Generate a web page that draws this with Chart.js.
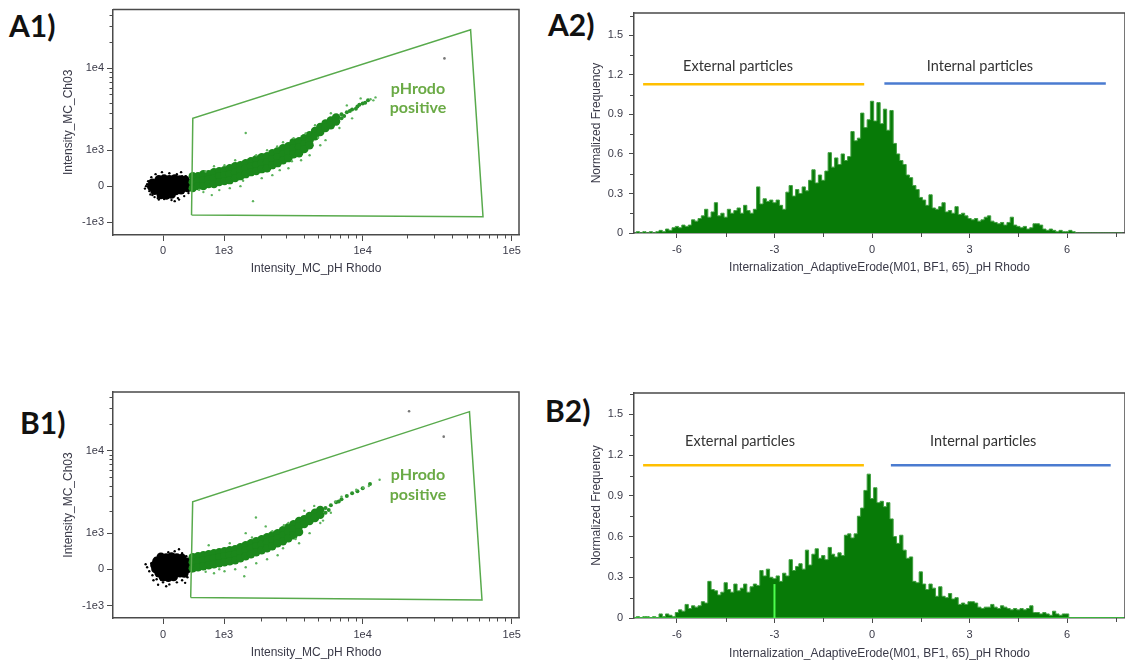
<!DOCTYPE html>
<html>
<head>
<meta charset="utf-8">
<title>pHrodo internalization</title>
<script src="https://cdn.jsdelivr.net/npm/chart.js@4/dist/chart.umd.min.js"></script>
<style>
  html, body { margin: 0; padding: 0; background: #fff; }
  body { position: relative; width: 1125px; height: 664px; overflow: hidden; }
  canvas { position: absolute; }
  .tag { position: absolute; font: bold 30px Lato, sans-serif; line-height: 30px; color: #111; }
</style>
</head>
<body>
<div class="tag" style="left:9px;top:10px">A1)</div>
<div class="tag" style="left:548px;top:9px">A2)</div>
<div class="tag" style="left:20px;top:407px">B1)</div>
<div class="tag" style="left:545px;top:395px">B2)</div>
<canvas id="a1" width="560" height="300" style="left:0;top:0"></canvas>
<canvas id="a2" width="565" height="300" style="left:560px;top:0"></canvas>
<canvas id="b1" width="560" height="284" style="left:0;top:380px"></canvas>
<canvas id="b2" width="565" height="284" style="left:560px;top:380px"></canvas>
<script>
// ---------- axis ticks ----------
var intensityXTicks = [0, 1e3, 1e4, 1e5];
var intensityXLabels = ['0', '1e3', '1e4', '1e5'];
var intensityYTicks = [-1e3, 0, 1e3, 1e4];
var intensityYLabels = ['-1e3', '0', '1e3', '1e4'];
var intensityXMinor = [2e3, 3e3, 4e3, 5e3, 6e3, 7e3, 8e3, 9e3, 2e4, 3e4, 4e4, 5e4, 6e4, 7e4, 8e4, 9e4];
var intensityYMinor = [2e3, 3e3, 4e3, 5e3, 6e3, 7e3, 8e3, 9e3, 2e4, 3e4, 4e4];

var erodeTicks = [-6, -3, 0, 3, 6];
var erodeLabels = ['-6', '-3', '0', '3', '6'];
var erodeMinor = [-4.5, -1.5, 1.5, 4.5, 7.5];
var freqTicks = [0, 0.3, 0.6, 0.9, 1.2, 1.5];
var freqLabels = ['0', '0.3', '0.6', '0.9', '1.2', '1.5'];
var freqMinor = [0.15, 0.45, 0.75, 1.05, 1.35, 1.65];

// ---------- A1 scatter (Intensity_MC_pH Rhodo, Intensity_MC_Ch03) ----------
var a1Gate = [[418, -763], [438, 2620], [53000, 27200], [64200, -816]];
var a1NegCore = [
  [-60, 160], [15, 178], [90, 165], [167, 182], [244, 158], [322, 150],
  [-151, 80], [-75, 64], [0, 90], [75, 70], [151, 96], [229, 60], [306, 84], [371, 66],
  [-167, -10], [-91, -30], [-15, -18], [60, -36], [136, -6], [213, -28], [290, -14], [355, -40],
  [-121, -110], [-45, -128], [30, -104], [106, -132], [182, -112], [260, -96],
  [-30, -210], [45, -226], [121, -200]
];
var a1NegSparse = [
  [-244, 0], [-213, 120], [-197, -120], [-167, 218], [-151, -218], [-106, 292], [-75, -292],
  [-15, 343], [15, -318], [90, 317], [121, -343], [198, 292], [213, -292], [275, 242],
  [306, -242], [355, 193], [371, -168], [404, 96], [404, -72], [-228, 48], [-121, -267],
  [167, -370], [260, 343], [-260, -60], [-60, -330], [230, -330], [330, 240], [-180, -200]
];
var a1PosCore = [
  [437, 242], [437, 96], [437, -48], [522, 242], [522, 120], [522, 0],
  [611, 292], [611, 144], [611, 0], [704, 292], [704, 168], [704, 48],
  [801, 343], [801, 193], [801, 48], [903, 369], [903, 242], [903, 96],
  [1010, 395], [1010, 267], [1010, 120], [1125, 447], [1125, 292], [1125, 144],
  [1250, 501], [1250, 343], [1250, 193], [1380, 529], [1380, 395], [1380, 242],
  [1520, 585], [1520, 447], [1520, 292], [1670, 643], [1670, 501], [1670, 343],
  [1830, 702], [1830, 529], [1830, 369], [2010, 764], [2010, 585], [2010, 421],
  [2200, 795], [2200, 614], [2200, 447], [2400, 892], [2400, 702], [2400, 529],
  [2620, 961], [2620, 764], [2620, 585], [2860, 1070], [2860, 859], [2860, 672],
  [3120, 1143], [3120, 926], [3120, 733], [3390, 1300], [3390, 1070], [3390, 859],
  [3700, 1345], [3700, 1105], [3700, 892], [4020, 1480], [4020, 1220], [4020, 1033],
  [4370, 1620], [4370, 1390], [4370, 1180], [4760, 1835], [4760, 1570],
  [5170, 2055], [5170, 1780], [5610, 2280], [5610, 2000], [6100, 2470], [6100, 2165],
  [6620, 2695], [6620, 2400]
];
var a1PosTail = [
  [7200, 2930], [7200, 2620], [7820, 3090], [8490, 3350], [9220, 3630], [10000, 3935],
  [10870, 4270], [7500, 2800], [8200, 3200], [9000, 3400], [9500, 3800], [10400, 4000]
];
var a1PosSparse = [
  [611, -144], [760, -218], [903, -96], [1125, -48], [1380, 0], [1520, 1725], [1730, -370],
  [2010, 193], [2400, 267], [2710, 395], [3120, 447], [3820, 672], [4370, 827], [5170, 1180],
  [5610, 1390], [6970, 2000], [8490, 2620], [11800, 4270], [12200, 4620], [1830, 827],
  [1250, 672], [2200, 996], [2860, 1300], [1010, 529], [3390, 1480], [4760, 2165],
  [6100, 3010], [7820, 3730], [9690, 4500], [801, 501], [650, 360], [540, -90],
  [1450, 130], [2600, 1130], [3300, 640], [4100, 1700], [5000, 1500], [11300, 4400]
];
var a1Stray = [[35400, 12900]];

// ---------- B1 scatter ----------
var b1Gate = [[405, -737], [436, 2570], [52100, 27600], [63200, -814]];
var b1NegCore = [
  [-30, 300], [45, 280], [121, 310], [198, 285], [275, 270],
  [-91, 200], [-15, 185], [60, 210], [136, 180], [213, 200], [290, 190], [355, 175],
  [-121, 100], [-45, 90], [30, 110], [106, 85], [182, 105], [260, 92], [338, 100], [387, 80],
  [-106, 10], [-30, -8], [45, 14], [121, -12], [198, 6], [275, -10], [355, 12],
  [-60, -90], [15, -104], [90, -86], [167, -110], [244, -92], [306, -100],
  [0, -186], [75, -200], [151, -180]
];
var b1NegSparse = [
  [-228, 48], [-197, -48], [-167, 144], [-151, -144], [-106, 267], [-91, -242], [-30, 369],
  [0, -318], [75, 421], [90, -370], [167, 447], [198, -318], [275, 395], [275, -267],
  [338, 317], [355, -193], [404, 218], [420, -48], [437, 96], [-136, -267], [229, 501], [45, -420],
  [-250, 120], [-70, -380], [320, -330]
];
var b1PosCore = [
  [437, 292], [437, 168], [437, 24], [522, 317], [522, 193], [522, 48],
  [611, 343], [611, 218], [611, 72], [704, 369], [704, 242], [704, 96],
  [801, 395], [801, 267], [801, 120], [903, 421], [903, 292], [903, 144],
  [1010, 447], [1010, 317], [1010, 168], [1125, 474], [1125, 343], [1125, 193],
  [1250, 501], [1250, 369], [1250, 218], [1380, 557], [1380, 421], [1380, 267],
  [1520, 614], [1520, 474], [1520, 317], [1670, 672], [1670, 529], [1670, 369],
  [1830, 733], [1830, 585], [1830, 421], [2010, 795], [2010, 643], [2010, 474],
  [2200, 859], [2200, 702], [2200, 529], [2400, 926], [2400, 764], [2400, 585],
  [2620, 996], [2620, 827], [2620, 672], [2860, 1105], [2860, 926], [2860, 733],
  [3120, 1220], [3120, 1033], [3120, 827], [3390, 1345], [3390, 1143], [3390, 926],
  [3700, 1480], [3700, 1260], [3700, 1033], [4020, 1570], [4020, 1345],
  [4370, 1725], [4370, 1480], [4760, 1890], [4760, 1620], [5170, 2055], [5170, 1780]
];
var b1PosTail = [
  [5610, 2165], [5610, 1890], [6100, 2340], [6620, 2545], [7200, 2770], [7820, 3010],
  [8490, 3260], [9220, 3440], [10000, 3730], [11200, 4155], [5900, 2050], [6900, 2600]
];
var b1PosSparse = [
  [1480, -168], [1820, 1650], [2150, 1250], [6520, 2590], [7200, 2970], [9060, 3570],
  [10100, 3770], [11000, 3940], [13000, 4660], [801, -96], [1010, -48], [1250, 0],
  [1520, 48], [1830, 144], [2200, 242], [2620, 343], [2860, 529], [3700, 672], [4370, 996],
  [5170, 1390], [4020, 2000], [6100, 1890], [3120, 1390], [2400, 1070], [1125, 672],
  [1520, 996], [704, 614], [903, 0], [650, -60], [1700, 850], [2900, 1300], [4700, 2300],
  [5400, 1500], [3500, 800]
];
var b1Stray = [[20500, 27900], [35000, 14400]];

// ---------- A2 / B2 histograms (bins of 0.1 starting at -7.3) ----------
var binStart = -7.3;
var binWidth = 0.1;
var a2Freq = [
  0, 0.01, 0, 0.01, 0, 0.01, 0, 0.01, 0.02, 0.01,
  0.03, 0.02, 0.04, 0.05, 0.04, 0.06, 0.05, 0.06, 0.10, 0.09,
  0.11, 0.13, 0.18, 0.12, 0.16, 0.23, 0.13, 0.15, 0.12, 0.18,
  0.15, 0.17, 0.19, 0.15, 0.21, 0.17, 0.15, 0.18, 0.35, 0.22,
  0.26, 0.24, 0.25, 0.23, 0.25, 0.21, 0.18, 0.31, 0.36, 0.28,
  0.33, 0.30, 0.35, 0.32, 0.40, 0.48, 0.38, 0.44, 0.40, 0.47,
  0.61, 0.50, 0.57, 0.52, 0.60, 0.55, 0.58, 0.77, 0.70, 0.72,
  0.91, 0.80, 0.86, 1.00, 0.85, 0.99, 0.83, 0.94, 0.78, 0.93,
  0.68, 0.60, 0.55, 0.52, 0.44, 0.42, 0.36, 0.33, 0.27, 0.25,
  0.21, 0.29, 0.19, 0.18, 0.20, 0.23, 0.16, 0.17, 0.15, 0.20,
  0.14, 0.15, 0.13, 0.11, 0.10, 0.11, 0.09, 0.10, 0.12, 0.13,
  0.09, 0.08, 0.07, 0.08, 0.06, 0.08, 0.12, 0.06, 0.05, 0.04,
  0.05, 0.03, 0.04, 0.07, 0.07, 0.06, 0.03, 0.02, 0.03, 0.02,
  0.01, 0.02, 0.01, 0.01, 0.02, 0.01, 0, 0, 0, 0,
  0, 0, 0, 0, 0, 0, 0, 0, 0, 0,
  0
];
var b2Freq = [
  0, 0.01, 0, 0.01, 0.01, 0, 0.01, 0, 0.03, 0.01,
  0.03, 0.02, 0.01, 0.04, 0.06, 0.05, 0.10, 0.07, 0.09, 0.08,
  0.09, 0.12, 0.11, 0.27, 0.21, 0.20, 0.17, 0.19, 0.26, 0.21,
  0.19, 0.25, 0.20, 0.22, 0.25, 0.19, 0.23, 0.25, 0.24, 0.35,
  0.31, 0.36, 0.30, 0.29, 0.31, 0.27, 0.33, 0.31, 0.43, 0.35,
  0.38, 0.40, 0.36, 0.50, 0.39, 0.47, 0.51, 0.44, 0.46, 0.43,
  0.52, 0.47, 0.45, 0.48, 0.46, 0.61, 0.62, 0.59, 0.62, 0.75,
  0.81, 0.94, 1.06, 0.88, 0.96, 0.85, 0.86, 0.82, 0.85, 0.73,
  0.60, 0.55, 0.61, 0.50, 0.44, 0.45, 0.27, 0.26, 0.34, 0.25,
  0.21, 0.25, 0.22, 0.16, 0.23, 0.16, 0.15, 0.18, 0.14, 0.15,
  0.10, 0.11, 0.10, 0.12, 0.12, 0.11, 0.08, 0.07, 0.08, 0.08,
  0.10, 0.08, 0.07, 0.09, 0.08, 0.07, 0.06, 0.07, 0.06, 0.07,
  0.06, 0.07, 0.09, 0.04, 0.04, 0.03, 0.04, 0.03, 0.02, 0.05,
  0.03, 0.02, 0.03, 0.03, 0, 0, 0, 0, 0, 0,
  0, 0, 0, 0, 0, 0, 0, 0, 0, 0,
  0
];
// [from, to, level]
var a2External = [-7.04, -0.24, 1.13];
var a2Internal = [0.38, 7.19, 1.134];
var b2External = [-7.04, -0.25, 1.125];
var b2Internal = [0.58, 7.34, 1.125];
var b2Cursor = [-3, 0.25];

// ---------- helpers ----------
var ASINH_C = 920;
function toAxis(v) { return Math.asinh(v / ASINH_C); }
function toPoint(p) { return { x: toAxis(p[0]), y: toAxis(p[1]) }; }

var AXIS_GREY = '#4a4a4a';
var TEXT_GREY = '#3a3a48';
var GATE_GREEN = '#58aa4c';
var tickFont = { family: "'Liberation Sans', Arial, sans-serif", size: 11 };
var titleFont = { family: "'Liberation Sans', Arial, sans-serif", size: 12 };

function framePlugin() {
  return {
    id: 'frame',
    afterDatasetsDraw: function(chart) {
      var ctx = chart.ctx, a = chart.chartArea;
      ctx.save();
      ctx.strokeStyle = AXIS_GREY;
      ctx.lineWidth = 1.5;
      ctx.beginPath();
      ctx.moveTo(a.left, a.top);
      ctx.lineTo(a.right, a.top);
      ctx.lineTo(a.right, a.bottom);
      ctx.stroke();
      ctx.restore();
    }
  };
}

function minorTickPlugin(xs, ys, len) {
  return {
    id: 'minorTicks',
    afterDraw: function(chart) {
      var ctx = chart.ctx, a = chart.chartArea;
      var sx = chart.scales.x, sy = chart.scales.y;
      ctx.save();
      ctx.strokeStyle = AXIS_GREY;
      ctx.lineWidth = 1;
      ctx.beginPath();
      xs.forEach(function(v) {
        var p = Math.round(sx.getPixelForValue(v)) + 0.5;
        if (p < a.left || p > a.right) return;
        ctx.moveTo(p, a.bottom);
        ctx.lineTo(p, a.bottom + len);
      });
      ys.forEach(function(v) {
        var p = Math.round(sy.getPixelForValue(v)) + 0.5;
        if (p < a.top || p > a.bottom) return;
        ctx.moveTo(a.left, p);
        ctx.lineTo(a.left - len, p);
      });
      ctx.stroke();
      ctx.restore();
    }
  };
}

function notesPlugin(items) {
  return {
    id: 'notes',
    afterDatasetsDraw: function(chart) {
      var ctx = chart.ctx;
      ctx.save();
      ctx.textAlign = 'center';
      ctx.textBaseline = 'middle';
      items.forEach(function(n) {
        ctx.font = n.font;
        ctx.fillStyle = n.color;
        ctx.fillText(n.text, chart.scales.x.getPixelForValue(n.x), chart.scales.y.getPixelForValue(n.y));
      });
      ctx.restore();
    }
  };
}

function scatterPanel(id, d, lay) {
  var gate = d.gate.concat([d.gate[0]]);
  var pos = 'bold 16px Lato, sans-serif';
  return new Chart(document.getElementById(id), {
    type: 'scatter',
    data: {
      datasets: [
        { data: gate.map(toPoint), showLine: true, borderColor: GATE_GREEN, borderWidth: 1.5, pointRadius: 0, order: 0 },
        { data: d.stray.map(toPoint), backgroundColor: '#777', pointRadius: 1.3, borderWidth: 0, order: 1 },
        { data: d.posSparse.map(toPoint), backgroundColor: '#5cb35c', pointRadius: 1.2, borderWidth: 0, order: 2 },
        { data: d.posTail.map(toPoint), backgroundColor: '#2a922a', pointRadius: 2, borderWidth: 0, order: 3 },
        { data: d.posCore.map(toPoint), backgroundColor: '#1b871b', pointRadius: 4.2, borderWidth: 0, order: 4 },
        { data: d.negSparse.map(toPoint), backgroundColor: '#000', pointRadius: 1.2, borderWidth: 0, order: 5 },
        { data: d.negCore.map(toPoint), backgroundColor: '#000', pointRadius: 4.4, borderWidth: 0, order: 6 }
      ]
    },
    options: {
      responsive: false, animation: false, events: [],
      layout: { padding: { left: 0, right: lay.padRight, top: lay.padTop, bottom: 0 } },
      plugins: { legend: { display: false }, tooltip: { enabled: false } },
      scales: {
        x: {
          type: 'linear', min: lay.xMin, max: lay.xMax,
          afterBuildTicks: function(s) { s.ticks = intensityXTicks.map(function(v) { return { value: toAxis(v) }; }); },
          afterFit: function(s) { s.height = lay.xAxisH; },
          ticks: { callback: function(v, i) { return intensityXLabels[i]; }, autoSkip: false, maxRotation: 0, padding: lay.xTickPad, font: tickFont, color: TEXT_GREY },
          grid: { drawOnChartArea: false, tickLength: 6, color: AXIS_GREY },
          border: { color: AXIS_GREY, width: 1.5 },
          title: { display: true, text: 'Intensity_MC_pH Rhodo', font: titleFont, color: TEXT_GREY, padding: { top: 0, bottom: lay.xTitlePad } }
        },
        y: {
          type: 'linear', min: lay.yMin, max: lay.yMax,
          afterBuildTicks: function(s) { s.ticks = intensityYTicks.map(function(v) { return { value: toAxis(v) }; }); },
          afterFit: function(s) { s.width = 113; },
          ticks: { callback: function(v, i) { return intensityYLabels[i]; }, autoSkip: false, padding: 3, font: tickFont, color: TEXT_GREY },
          grid: { drawOnChartArea: false, tickLength: 6, color: AXIS_GREY },
          border: { color: AXIS_GREY, width: 1.5 },
          title: { display: true, text: 'Intensity_MC_Ch03', font: titleFont, color: TEXT_GREY, padding: { top: 61, bottom: 0 } }
        }
      }
    },
    plugins: [
      framePlugin(),
      minorTickPlugin(intensityXMinor.map(toAxis), intensityYMinor.map(toAxis), 3.5),
      notesPlugin([
        { text: 'pHrodo', x: 3.935, y: lay.noteY[0], font: pos, color: '#6aaa45' },
        { text: 'positive', x: 3.935, y: lay.noteY[1], font: pos, color: '#6aaa45' }
      ])
    ]
  });
}

function histPanel(id, freq, ext, int, lay, cursor) {
  var bins = freq.map(function(v, i) { return { x: binStart + i * binWidth, y: v }; });
  var sets = [
    { data: [{ x: ext[0], y: ext[2] }, { x: ext[1], y: ext[2] }], borderColor: '#ffbf00', borderWidth: 2.5, pointRadius: 0, order: 1 },
    { data: [{ x: int[0], y: int[2] }, { x: int[1], y: int[2] }], borderColor: '#4a7bd0', borderWidth: 2.5, pointRadius: 0, order: 1 },
    { data: bins, stepped: 'middle', fill: 'origin', backgroundColor: '#077a07', borderColor: '#3f9f3f', borderWidth: 1, pointRadius: 0, order: 5 }
  ];
  if (cursor) {
    sets.push({ data: [{ x: cursor[0], y: 0 }, { x: cursor[0], y: cursor[1] }], borderColor: '#4dff4d', borderWidth: 2, pointRadius: 0, order: 0 });
    sets.push({ data: [{ x: lay.xMin, y: 0 }, { x: lay.xMax, y: 0 }], borderColor: '#39c839', borderWidth: 1.5, pointRadius: 0, order: 2 });
  }
  var label = '14.5px Lato, sans-serif';
  return new Chart(document.getElementById(id), {
    type: 'line',
    data: { datasets: sets },
    options: {
      responsive: false, animation: false, events: [],
      layout: { padding: { left: 0, right: 0, top: lay.padTop, bottom: 0 } },
      plugins: { legend: { display: false }, tooltip: { enabled: false } },
      scales: {
        x: {
          type: 'linear', min: lay.xMin, max: lay.xMax,
          afterBuildTicks: function(s) { s.ticks = erodeTicks.map(function(v) { return { value: v }; }); },
          afterFit: function(s) { s.height = lay.xAxisH; },
          ticks: { callback: function(v, i) { return erodeLabels[i]; }, autoSkip: false, maxRotation: 0, padding: lay.xTickPad, font: tickFont, color: TEXT_GREY },
          grid: { drawOnChartArea: false, tickLength: 5, color: AXIS_GREY },
          border: { color: AXIS_GREY, width: 1.5 },
          title: { display: true, text: 'Internalization_AdaptiveErode(M01, BF1, 65)_pH Rhodo', font: titleFont, color: TEXT_GREY, padding: { top: 0, bottom: lay.xTitlePad } }
        },
        y: {
          type: 'linear', min: 0, max: lay.yMax,
          afterBuildTicks: function(s) { s.ticks = freqTicks.map(function(v) { return { value: v }; }); },
          afterFit: function(s) { s.width = 74; },
          ticks: { callback: function(v, i) { return freqLabels[i]; }, autoSkip: false, padding: 6, font: tickFont, color: TEXT_GREY },
          grid: { drawOnChartArea: false, tickLength: 5, color: AXIS_GREY },
          border: { color: AXIS_GREY, width: 1.5 },
          title: { display: true, text: 'Normalized Frequency', font: titleFont, color: TEXT_GREY, padding: { top: 29, bottom: 0 } }
        }
      }
    },
    plugins: [
      framePlugin(),
      minorTickPlugin(erodeMinor, freqMinor, 4),
      notesPlugin([
        { text: 'External particles', x: lay.noteX[0], y: lay.noteY, font: label, color: '#333' },
        { text: 'Internal particles', x: lay.noteX[1], y: lay.noteY, font: label, color: '#333' }
      ])
    ]
  });
}

scatterPanel('a1',
  { gate: a1Gate, negCore: a1NegCore, negSparse: a1NegSparse, posCore: a1PosCore, posTail: a1PosTail, posSparse: a1PosSparse, stray: a1Stray },
  { padTop: 9, padRight: 41, xAxisH: 65, xMin: -0.772, xMax: 5.494, yMin: -1.276, yMax: 4.609, xTickPad: 3.5, xTitlePad: 24, noteY: [2.552, 2.031] });

scatterPanel('b1',
  { gate: b1Gate, negCore: b1NegCore, negSparse: b1NegSparse, posCore: b1PosCore, posTail: b1PosTail, posSparse: b1PosSparse, stray: b1Stray },
  { padTop: 12, padRight: 41, xAxisH: 46, xMin: -0.772, xMax: 5.494, yMin: -1.265, yMax: 4.605, xTickPad: 4.5, xTitlePad: 4, noteY: [2.449, 1.93] });

histPanel('a2', a2Freq, a2External, a2Internal,
  { padTop: 13, xAxisH: 67, xMin: -7.32, xMax: 7.78, yMax: 1.670, xTickPad: 5, xTitlePad: 25, noteX: [-4.12, 3.32], noteY: 1.268 });

histPanel('b2', b2Freq, b2External, b2Internal,
  { padTop: 13, xAxisH: 46, xMin: -7.32, xMax: 7.78, yMax: 1.658, xTickPad: 5, xTitlePad: 3, noteX: [-4.06, 3.42], noteY: 1.30 },
  b2Cursor);
</script>
</body>
</html>
